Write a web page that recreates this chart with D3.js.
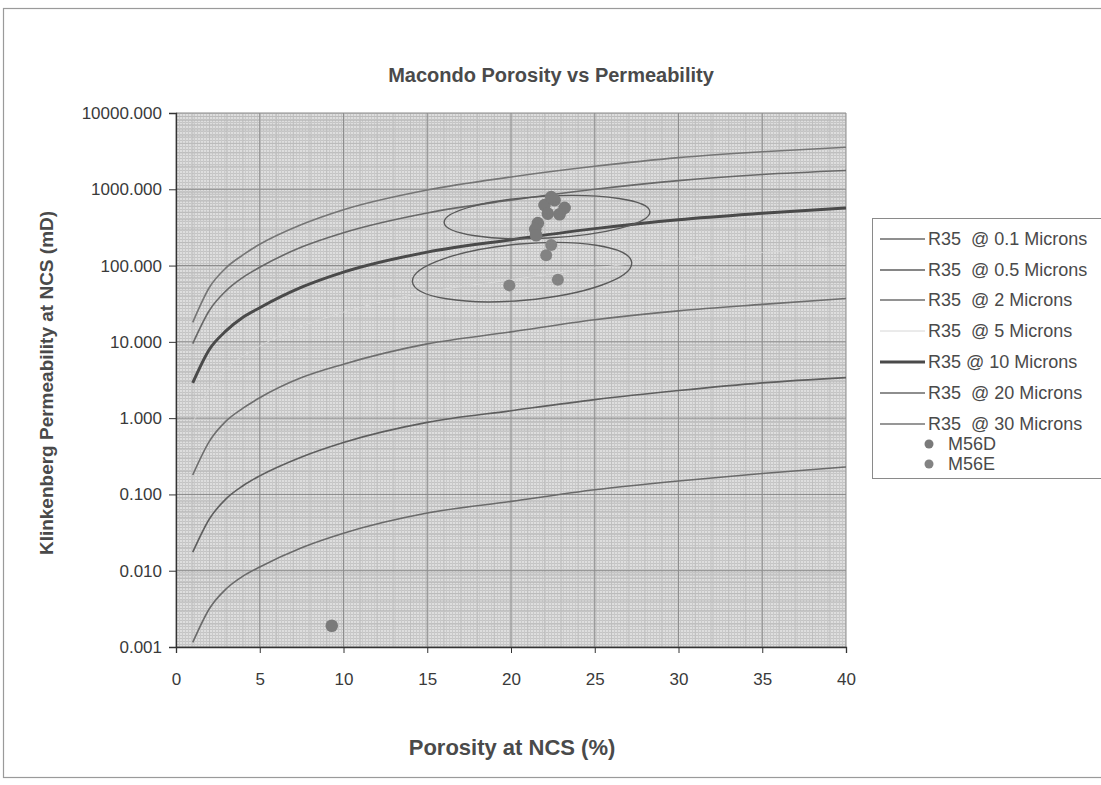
<!DOCTYPE html>
<html>
<head>
<meta charset="utf-8">
<script src="https://cdn.jsdelivr.net/npm/d3@7/dist/d3.min.js"></script>
<style>
  body { margin: 0; background: #fff; }
  text { font-family: "Liberation Sans", Arial, sans-serif; }
</style>
</head>
<body>
<div id="chart"></div>
<script>
const porosity = [1, 2, 3, 4, 5, 7.5, 10, 15, 20, 25, 30, 35, 40];

// permeability (mD) of each R35 curve at those porosities
const r35_01 = [0.00115, 0.0032, 0.0058, 0.0085, 0.0112, 0.020, 0.031, 0.057, 0.081, 0.115, 0.150, 0.188, 0.229];
const r35_05 = [0.0175, 0.048, 0.088, 0.13, 0.175, 0.31, 0.48, 0.88, 1.25, 1.75, 2.3, 2.9, 3.4];
const r35_2  = [0.18, 0.5, 0.92, 1.35, 1.85, 3.4, 5.1, 9.4, 13.5, 19.5, 25.5, 31, 37];
const r35_5  = [0.86, 2.4, 4.4, 6.5, 8.8, 16, 24.5, 45, 65, 93, 122, 148, 176];
const r35_10 = [2.9, 8, 14, 21, 28, 52, 82, 150, 218, 305, 400, 485, 570];
const r35_20 = [9.5, 26, 47, 70, 95, 175, 270, 490, 720, 1000, 1300, 1560, 1760];
const r35_30 = [18, 52, 94, 138, 190, 345, 540, 980, 1450, 2000, 2600, 3100, 3550];

// core samples
const m56dPhi = [22.0, 22.6, 23.2, 22.9, 22.2, 21.6, 21.45, 21.5, 22.4, 9.3];
const m56dK   = [620, 720, 570, 470, 480, 360, 300, 250, 790, 0.0019];
const m56ePhi = [19.9, 22.8, 22.1, 22.4];
const m56eK   = [55, 65, 137, 186];

// hand drawn ellipses (centre porosity, centre perm, half width in %, half height in decades)
const ellPhi = [22.15, 20.66];
const ellK   = [432, 82];
const ellHalfPhi = [6.15, 6.57];
const ellHalfDec = [0.275, 0.37];

const xTicks = [0, 5, 10, 15, 20, 25, 30, 35, 40];
const yTicks = [0.001, 0.01, 0.1, 1, 10, 100, 1000, 10000];

const W = 1101, H = 785;
const margin = { top: 113, right: 255, bottom: 138, left: 176 };
const width = W - margin.left - margin.right;
const height = H - margin.top - margin.bottom;

const svg = d3.select("#chart").append("svg")
  .attr("width", W).attr("height", H);

// scanned page border
svg.append("rect")
  .attr("x", 3.5).attr("y", 8.5).attr("width", 1110).attr("height", 769)
  .attr("fill", "none").attr("stroke", "#9a9a9a").attr("stroke-width", 1.2);

// halftone-ish texture for the plot area
const defs = svg.append("defs");
const pat = defs.append("pattern").attr("id", "mesh")
  .attr("width", 3).attr("height", 3).attr("patternUnits", "userSpaceOnUse");
pat.append("rect").attr("width", 3).attr("height", 3).attr("fill", "#dedede");
pat.append("rect").attr("width", 3).attr("height", 1).attr("fill", "#c4c4c4");
pat.append("rect").attr("width", 1).attr("height", 3).attr("fill", "#c9c9c9");

const g = svg.append("g").attr("transform", `translate(${margin.left},${margin.top})`);

const x = d3.scaleLinear().domain([0, 40]).range([0, width]);
const y = d3.scaleLog().domain([0.001, 10000]).range([height, 0]);

g.append("rect").attr("width", width).attr("height", height).attr("fill", "url(#mesh)");

// minor grid
const minorY = [];
yTicks.slice(0, -1).forEach(t => { for (let m = 2; m < 10; m++) minorY.push(t * m); });
g.selectAll(".minor-y").data(minorY).enter().append("line")
  .attr("x1", 0).attr("x2", width)
  .attr("y1", d => y(d)).attr("y2", d => y(d))
  .attr("stroke", "#b8b8b8").attr("stroke-width", 0.8);
g.selectAll(".minor-x").data(d3.range(1, 40)).enter().append("line")
  .attr("y1", 0).attr("y2", height)
  .attr("x1", d => x(d)).attr("x2", d => x(d))
  .attr("stroke", "#bdbdbd").attr("stroke-width", 0.8);

// major grid
g.selectAll(".major-y").data(yTicks).enter().append("line")
  .attr("x1", 0).attr("x2", width)
  .attr("y1", d => y(d)).attr("y2", d => y(d))
  .attr("stroke", "#8a8a8a").attr("stroke-width", 1);
g.selectAll(".major-x").data(xTicks).enter().append("line")
  .attr("y1", 0).attr("y2", height)
  .attr("x1", d => x(d)).attr("x2", d => x(d))
  .attr("stroke", "#8e8e8e").attr("stroke-width", 1);

// R35 curves
const series = [
  { name: "R35  @ 0.1 Microns", vals: r35_01, color: "#6a6a6a", w: 1.6 },
  { name: "R35  @ 0.5 Microns", vals: r35_05, color: "#5e5e5e", w: 1.6 },
  { name: "R35  @ 2 Microns",   vals: r35_2,  color: "#6e6e6e", w: 1.6 },
  { name: "R35  @ 5 Microns",   vals: r35_5,  color: "#d6d6d6", w: 1 },
  { name: "R35 @ 10 Microns",   vals: r35_10, color: "#4a4a4a", w: 3 },
  { name: "R35  @ 20 Microns",  vals: r35_20, color: "#686868", w: 1.6 },
  { name: "R35  @ 30 Microns",  vals: r35_30, color: "#757575", w: 1.6 }
];

const line = d3.line()
  .x(d => x(d[0])).y(d => y(d[1]))
  .curve(d3.curveMonotoneX);

g.selectAll(".r35").data(series).enter().append("path")
  .attr("class", "r35")
  .attr("d", s => line(porosity.map((p, i) => [p, s.vals[i]])))
  .attr("fill", "none")
  .attr("stroke", s => s.color)
  .attr("stroke-width", s => s.w);

// ellipses
ellPhi.forEach((p, i) => {
  const cx = x(p), cy = y(ellK[i]);
  const rx = x(p + ellHalfPhi[i]) - cx;
  const ry = cy - y(ellK[i] * Math.pow(10, ellHalfDec[i]));
  g.append("ellipse")
    .attr("cx", cx).attr("cy", cy).attr("rx", rx).attr("ry", ry)
    .attr("transform", `rotate(${i === 0 ? -3 : -5},${cx},${cy})`)
    .attr("fill", "none").attr("stroke", "#5a5a5a").attr("stroke-width", 1.4);
});

// samples
g.selectAll(".m56d").data(m56dPhi.map((p, i) => [p, m56dK[i]])).enter().append("circle")
  .attr("cx", d => x(d[0])).attr("cy", d => y(d[1])).attr("r", 6.3)
  .attr("fill", "#7a7a7a");
g.selectAll(".m56e").data(m56ePhi.map((p, i) => [p, m56eK[i]])).enter().append("circle")
  .attr("cx", d => x(d[0])).attr("cy", d => y(d[1])).attr("r", 6)
  .attr("fill", "#838383");

// axes
const xAxis = g.append("g").attr("transform", `translate(0,${height})`)
  .call(d3.axisBottom(x).tickValues(xTicks).tickSize(6).tickPadding(20));
const yAxis = g.append("g")
  .call(d3.axisLeft(y).tickValues(yTicks).tickSize(7).tickPadding(7).tickFormat(d3.format(".3f")));
[xAxis, yAxis].forEach(a => {
  a.select(".domain").attr("stroke", "#333").attr("stroke-width", 1.3);
  a.selectAll(".tick line").attr("stroke", "#333");
  a.selectAll(".tick text").attr("fill", "#3a3a3a").style("font-size", "17px")
    .style("font-family", "'Liberation Sans', Arial, sans-serif");
});

// titles
svg.append("text").attr("x", 551).attr("y", 82).attr("text-anchor", "middle")
  .attr("fill", "#4a4a4a").style("font-size", "20px").style("font-weight", "bold")
  .text("Macondo Porosity vs Permeability");
svg.append("text").attr("x", 512).attr("y", 755).attr("text-anchor", "middle")
  .attr("fill", "#4a4a4a").style("font-size", "22px").style("font-weight", "bold")
  .text("Porosity at NCS (%)");
svg.append("text").attr("transform", "translate(53,383) rotate(-90)").attr("text-anchor", "middle")
  .attr("fill", "#4a4a4a").style("font-size", "19px").style("font-weight", "bold")
  .text("Klinkenberg Permeability at NCS (mD)");

// legend
const lg = svg.append("g");
lg.append("rect").attr("x", 872.5).attr("y", 218.5).attr("width", 240).attr("height", 260)
  .attr("fill", "#fff").attr("stroke", "#8a8a8a");
const rowY = [239, 270, 300, 331, 362, 393, 424];
series.forEach((s, i) => {
  lg.append("line").attr("x1", 880).attr("x2", 925).attr("y1", rowY[i]).attr("y2", rowY[i])
    .attr("stroke", s.color).attr("stroke-width", s.w);
  lg.append("text").attr("x", 928).attr("y", rowY[i] + 6)
    .style("white-space", "pre").style("font-size", "18px").attr("fill", "#4a4a4a")
    .text(s.name);
});
[["M56D", "#7a7a7a", 444], ["M56E", "#838383", 464]].forEach(([name, c, yy]) => {
  lg.append("circle").attr("cx", 929).attr("cy", yy).attr("r", 4.5).attr("fill", c);
  lg.append("text").attr("x", 948).attr("y", yy + 6).style("font-size", "18px")
    .attr("fill", "#4a4a4a").text(name);
});
</script>
</body>
</html>
